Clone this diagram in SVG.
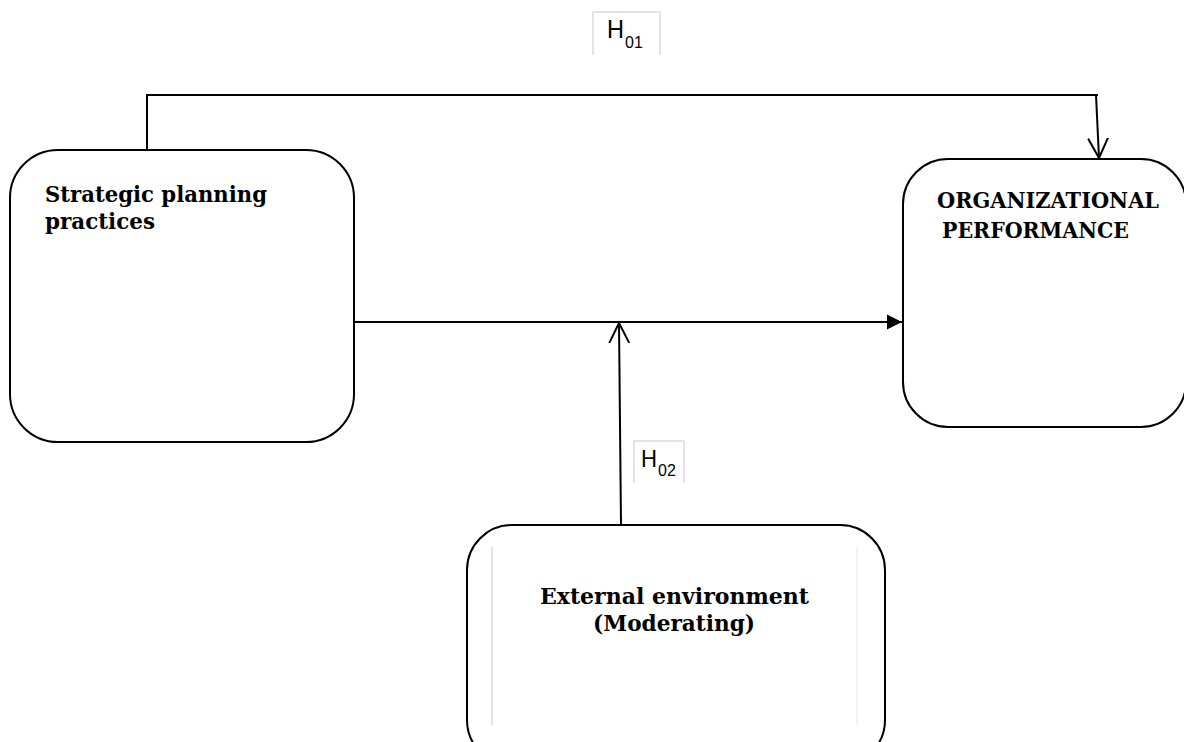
<svg xmlns="http://www.w3.org/2000/svg" width="1184" height="742" viewBox="0 0 1184 742">
<style>
.box{fill:#fff;stroke:#000;stroke-width:2}
.lbl{font-family:"DejaVu Serif","Liberation Serif",serif;font-weight:bold;font-size:23px;fill:#000}
.hyp{font-family:"Liberation Sans",Arial,sans-serif;fill:#000}
.hbox{fill:none;stroke:#c8c8c8;stroke-width:1}
.conn{fill:none;stroke:#000;stroke-width:2}
</style>
<defs>
<marker id="filled" markerWidth="16" markerHeight="16" refX="15" refY="8" orient="auto" markerUnits="userSpaceOnUse">
<path d="M0,0.5 L15,8 L0,15.5 Z" fill="#000"/>
</marker>
<marker id="open" markerWidth="24" markerHeight="24" refX="20" refY="12" orient="auto" markerUnits="userSpaceOnUse">
<path d="M0,2 L20,12 L0,22" fill="none" stroke="#000" stroke-width="2"/>
</marker>
</defs>
<g id="connectors">
<polyline class="conn" points="147,150 147,95 1098,95"/>
<line class="conn" x1="1096" y1="95" x2="1099" y2="158" marker-end="url(#open)"/>
<line class="conn" x1="355" y1="322" x2="902" y2="322" marker-end="url(#filled)"/>
<line class="conn" x1="621" y1="525" x2="619" y2="323" marker-end="url(#open)"/>
</g>
<g id="h01">
<polyline class="hbox" points="593,55 593,12 660,12 660,55"/>
<text class="hyp" x="607" y="38" font-size="25" textLength="17" lengthAdjust="spacingAndGlyphs">H</text>
<text class="hyp" x="625" y="48" font-size="16">01</text>
</g>
<g id="h02">
<polyline class="hbox" points="634,483 634,441 684,441 684,483"/>
<text class="hyp" x="641" y="467" font-size="24" textLength="16" lengthAdjust="spacingAndGlyphs">H</text>
<text class="hyp" x="658" y="476" font-size="16">02</text>
</g>
<g id="strategic">
<rect class="box" x="10" y="150" width="344" height="292" rx="48" ry="48"/>
<text class="lbl" x="45" y="202" textLength="222" lengthAdjust="spacingAndGlyphs">Strategic planning</text>
<text class="lbl" x="45" y="229" textLength="110" lengthAdjust="spacingAndGlyphs">practices</text>
</g>
<g id="performance">
<rect class="box" x="903" y="159" width="283" height="268" rx="45" ry="45"/>
<text class="lbl" x="937" y="208" textLength="222" lengthAdjust="spacingAndGlyphs">ORGANIZATIONAL</text>
<text class="lbl" x="942" y="238" textLength="187" lengthAdjust="spacingAndGlyphs">PERFORMANCE</text>
</g>
<g id="external">
<rect class="box" x="467" y="525" width="418" height="240" rx="45" ry="45"/>
<line x1="492" y1="547" x2="492" y2="725" stroke="#c8c8c8" stroke-width="1"/>
<line x1="857" y1="547" x2="857" y2="725" stroke="#e4e4e4" stroke-width="1"/>
<text class="lbl" x="540" y="604" textLength="269" lengthAdjust="spacingAndGlyphs">External environment</text>
<text class="lbl" x="593" y="631" textLength="162" lengthAdjust="spacingAndGlyphs">(Moderating)</text>
</g>
</svg>
